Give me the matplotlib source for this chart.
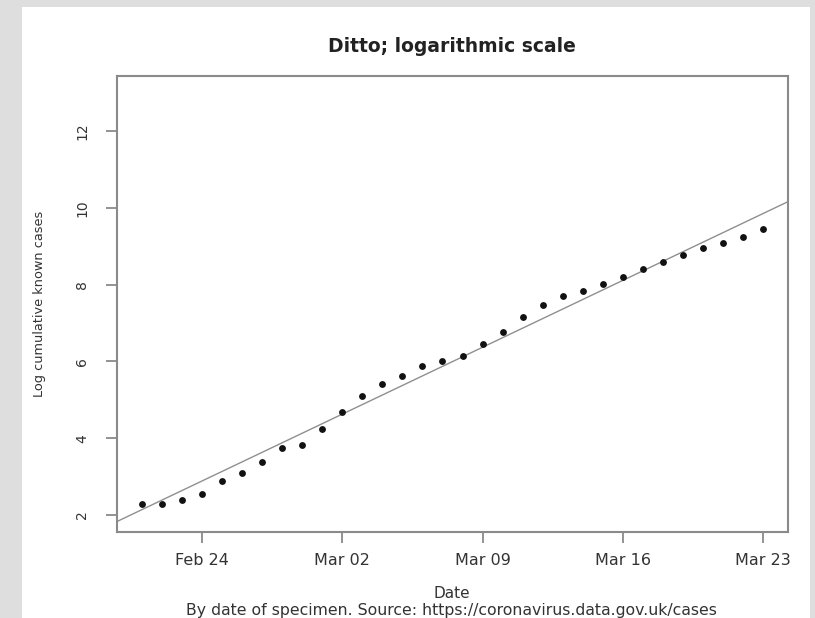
import matplotlib
matplotlib.use("Agg")
import matplotlib.pyplot as plt
import matplotlib.dates as mdates
from matplotlib.patches import Rectangle
import datetime as dt
import numpy as np

# ---- data ----
start_date = dt.date(2020, 2, 21)
n_days = 32
log_cases = [2.29, 2.29, 2.39, 2.55, 2.88, 3.09, 3.39, 3.74, 3.83, 4.23,
             4.67, 5.09, 5.40, 5.61, 5.87, 6.01, 6.15, 6.44, 6.77, 7.16,
             7.48, 7.71, 7.84, 8.02, 8.21, 8.40, 8.60, 8.77, 8.95, 9.08,
             9.23, 9.44]
dates = [start_date + dt.timedelta(days=i) for i in range(n_days)]

# fitted straight line (log-linear fit)
fit_ref_date = dt.date(2020, 2, 24)
fit_intercept = 2.885   # value at fit_ref_date
fit_slope = 0.2488      # per day

xtick_dates = [dt.date(2020, 2, 24), dt.date(2020, 3, 2), dt.date(2020, 3, 9),
               dt.date(2020, 3, 16), dt.date(2020, 3, 23)]
xtick_labels = ["Feb 24", "Mar 02", "Mar 09", "Mar 16", "Mar 23"]
yticks = [2, 4, 6, 8, 10, 12]

title = "Ditto; logarithmic scale"
xlabel = "Date"
ylabel = "Log cumulative known cases"
subtitle = "By date of specimen. Source: https://coronavirus.data.gov.uk/cases"

# ---- figure ----
W, H = 815, 618
plt.rcParams["font.family"] = ["DejaVu Sans"]
fig = plt.figure(figsize=(W / 100, H / 100), dpi=100, facecolor="#dedede")

# white panel
fig.patches.append(Rectangle((22 / W, 0), (810 - 22) / W, 1 - 7 / H,
                             transform=fig.transFigure, facecolor="white",
                             edgecolor="none", zorder=-10))

ax = fig.add_axes([117 / W, 1 - 532 / H, (788 - 117) / W, (532 - 75.7) / H])
ax.set_zorder(5)
ax.set_facecolor("white")

xnum = mdates.date2num(dates)
ax.plot(xnum, log_cases, linestyle="none", marker="o", markersize=3.9,
        color="#111111", zorder=3)

ax.axline((mdates.date2num(fit_ref_date), fit_intercept), slope=fit_slope,
          color="#8f8f8f", linewidth=1.0, zorder=2)

span = xnum[-1] - xnum[0]
ax.set_xlim(xnum[0] - 0.04 * span, xnum[-1] + 0.04 * span)
ax.set_ylim(1.557, 13.44)

ax.set_xticks(mdates.date2num(xtick_dates))
ax.set_xticklabels(xtick_labels)
ax.set_yticks(yticks)
ax.set_yticklabels([str(v) for v in yticks], rotation=90, va="center")

spine_col = "#8a8a8a"
for s in ax.spines.values():
    s.set_color(spine_col)
    s.set_linewidth(1.5)
ax.tick_params(axis="both", colors=spine_col, width=1.3, length=8,
               labelcolor="#333333")
ax.tick_params(axis="y", pad=12, labelsize=10)
ax.tick_params(axis="x", pad=7, labelsize=11.5)

fig.text(452 / W, 1 - 46 / H, title, ha="center", va="center",
         fontsize=13.5, fontweight="bold", color="#222222")
fig.text(40 / W, 1 - 304 / H, ylabel, ha="center", va="center",
         rotation=90, fontsize=9.3, color="#333333")
fig.text(452 / W, 1 - 594 / H, xlabel, ha="center", va="center",
         fontsize=11, color="#333333")
fig.text(451 / W, 1 - 611 / H, subtitle, ha="center", va="center",
         fontsize=11.3, color="#333333")

fig.savefig("out.png", dpi=100, facecolor=fig.get_facecolor())
